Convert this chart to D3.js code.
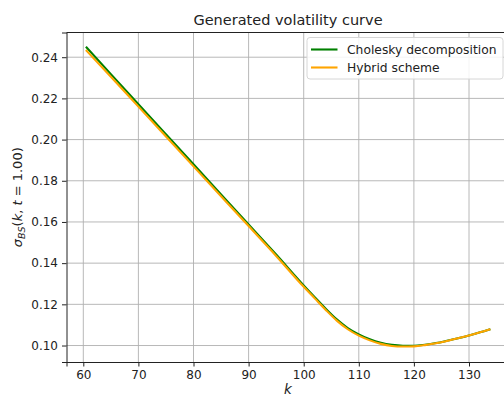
<!DOCTYPE html>
<html>
<head>
<meta charset="utf-8">
<script src="https://cdn.jsdelivr.net/npm/d3@7"></script>
<style>
  html, body { margin: 0; padding: 0; background: #fff; }
  svg { display: block; font-family: "DejaVu Sans", sans-serif; }
</style>
</head>
<body>
<svg id="chart" width="504" height="399"></svg>
<script>
// Strike grid k and implied volatilities for the two simulation methods
const strikes = [60.6, 65, 70, 75, 80, 85, 90, 95, 100, 102, 104, 106, 108, 110,
                 112, 114, 116, 118, 120, 122, 124, 126, 128, 130, 132, 133.7];
const cholesky = [0.2447, 0.2318, 0.2172, 0.2026, 0.1880, 0.1734, 0.1588, 0.1442, 0.1292,
                  0.1235, 0.1179, 0.1127, 0.1085, 0.1054, 0.1030, 0.1013, 0.1003, 0.0999,
                  0.0999, 0.1004, 0.1012, 0.1023, 0.1035, 0.1049, 0.1064, 0.1078];
const hybrid = [0.2431, 0.2305, 0.2160, 0.2015, 0.1870, 0.1725, 0.1580, 0.1435, 0.1285,
                0.1229, 0.1173, 0.1121, 0.1079, 0.1048, 0.1025, 0.1008, 0.0998, 0.0995,
                0.0996, 0.1002, 0.1011, 0.1022, 0.1035, 0.1049, 0.1064, 0.1078];
const xTicks = [60, 70, 80, 90, 100, 110, 120, 130];
const yTicks = [0.10, 0.12, 0.14, 0.16, 0.18, 0.20, 0.22, 0.24];
const seriesNames = ["Cholesky decomposition", "Hybrid scheme"];
const seriesColors = ["#008000", "#ffa500"];

const svg = d3.select("#chart");
const plotLeft = 66.5, plotTop = 32.5, plotBottom = 362;
const pxPerUnit = 5.51;
const xDomain = [56.95, 137.35];
const plotRight = plotLeft + (xDomain[1] - xDomain[0]) * pxPerUnit;

const x = d3.scaleLinear().domain(xDomain).range([plotLeft, plotRight]);
const y = d3.scaleLinear().domain([0.0920, 0.2520]).range([plotBottom, plotTop]);

// grid
const grid = svg.append("g");
grid.selectAll("line.vx").data(xTicks).join("line")
  .attr("x1", d => x(d)).attr("x2", d => x(d))
  .attr("y1", plotTop).attr("y2", plotBottom)
  .attr("stroke", "#b0b0b0").attr("stroke-width", 0.9);
grid.selectAll("line.hy").data(yTicks).join("line")
  .attr("x1", plotLeft).attr("x2", plotRight)
  .attr("y1", d => y(d)).attr("y2", d => y(d))
  .attr("stroke", "#b0b0b0").attr("stroke-width", 0.9);

// curves
const plot = svg.append("g");
[cholesky, hybrid].forEach((vals, i) => {
  const pts = strikes.map((k, j) => [k, vals[j]]);
  plot.append("path")
    .datum(pts)
    .attr("fill", "none")
    .attr("stroke", seriesColors[i])
    .attr("stroke-width", 2.1)
    .attr("stroke-linecap", "square")
    .attr("d", d3.line().x(d => x(d[0])).y(d => y(d[1])).curve(d3.curveMonotoneX));
});

// axes
const xAxis = svg.append("g")
  .attr("transform", `translate(0,${plotBottom})`)
  .call(d3.axisBottom(x).tickValues(xTicks).tickSize(4.5).tickPadding(4).tickFormat(d3.format("d")));
const yAxis = svg.append("g")
  .attr("transform", `translate(${plotLeft},0)`)
  .call(d3.axisLeft(y).tickValues(yTicks).tickSize(4.5).tickPadding(4).tickFormat(d3.format(".2f")));
[xAxis, yAxis].forEach(g => {
  g.select(".domain").attr("stroke", "#222").attr("stroke-width", 1);
  g.selectAll(".tick line").attr("stroke", "#222").attr("stroke-width", 1);
  g.selectAll(".tick text").attr("fill", "#222").attr("font-size", 12)
    .attr("font-family", "DejaVu Sans, sans-serif");
});
// top and right spines
svg.append("line").attr("x1", plotLeft).attr("x2", plotRight).attr("y1", plotTop).attr("y2", plotTop)
  .attr("stroke", "#222").attr("stroke-width", 1);
svg.append("line").attr("x1", plotRight).attr("x2", plotRight).attr("y1", plotTop).attr("y2", plotBottom)
  .attr("stroke", "#222").attr("stroke-width", 1);

// title
svg.append("text")
  .attr("x", (plotLeft + plotRight) / 2).attr("y", 25)
  .attr("text-anchor", "middle")
  .attr("font-size", 14.5).attr("fill", "#222")
  .text("Generated volatility curve");

// x label
svg.append("text")
  .attr("x", (plotLeft + plotRight) / 2).attr("y", 394)
  .attr("text-anchor", "middle")
  .attr("font-size", 13.5).attr("font-style", "italic").attr("fill", "#222")
  .text("k");

// y label
const yl = svg.append("text")
  .attr("transform", `translate(22,${(plotTop + plotBottom) / 2}) rotate(-90)`)
  .attr("text-anchor", "middle")
  .attr("font-size", 13).attr("fill", "#222");
yl.append("tspan").attr("font-style", "italic").text("σ");
yl.append("tspan").attr("font-style", "italic").attr("font-size", 9.5).attr("dy", 3).text("BS");
yl.append("tspan").attr("dy", -3).text("(");
yl.append("tspan").attr("font-style", "italic").text("k");
yl.append("tspan").text(", ");
yl.append("tspan").attr("font-style", "italic").text("t");
yl.append("tspan").text(" = 1.00)");

// legend
const lg = svg.append("g");
lg.append("rect")
  .attr("x", 307).attr("y", 37.5).attr("width", 196).attr("height", 41.5)
  .attr("rx", 3).attr("fill", "#fff").attr("fill-opacity", 0.85)
  .attr("stroke", "#d6d6d6").attr("stroke-width", 1);
seriesNames.forEach((name, i) => {
  const ly = 49.5 + i * 18;
  lg.append("line").attr("x1", 311).attr("x2", 337.5).attr("y1", ly).attr("y2", ly)
    .attr("stroke", seriesColors[i]).attr("stroke-width", 2.1);
  lg.append("text").attr("x", 347).attr("y", ly + 4.4)
    .attr("font-size", 12.3).attr("fill", "#222").text(name);
});
</script>
</body>
</html>
